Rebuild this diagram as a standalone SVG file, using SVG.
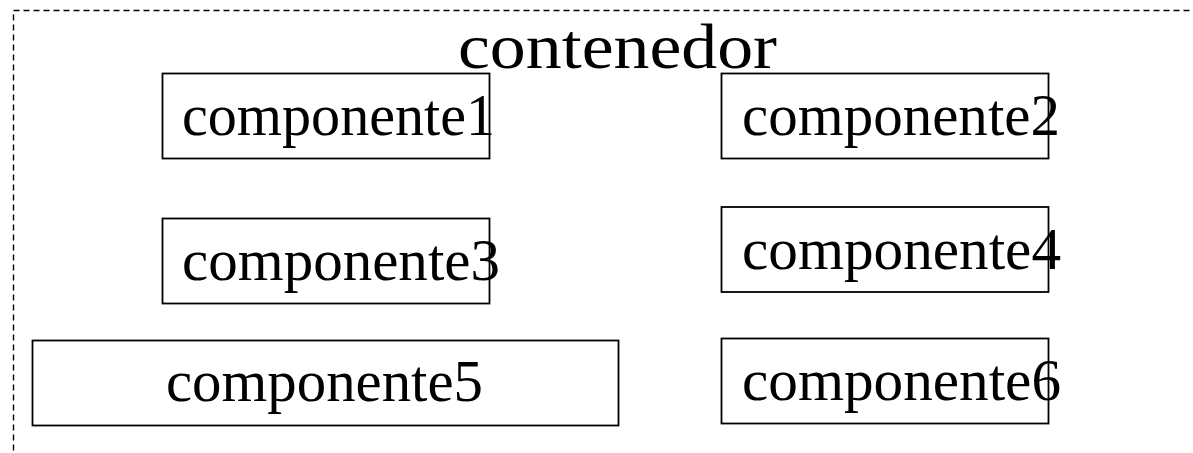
<svg xmlns="http://www.w3.org/2000/svg" width="1193" height="453" viewBox="0 0 1193 453">
<style>
.box{fill:#fff;stroke:#000;stroke-width:1.8}
.cont{fill:none;stroke:#000;stroke-width:1.4;stroke-dasharray:6,4}
text{font-family:"Liberation Serif","DejaVu Serif",serif;font-size:60px;fill:#000;font-variant-numeric:oldstyle-nums}
.title{font-size:64px}
</style>
<rect width="1193" height="453" fill="#fff"/>
<g id="contenedor">
<rect class="cont" x="13.5" y="10.5" width="1200" height="460"/>
<text class="title" x="458" y="68" textLength="319" lengthAdjust="spacingAndGlyphs">contenedor</text>
</g>
<g id="componente1">
<rect class="box" x="162.5" y="73.5" width="327" height="85"/>
<text x="182" y="135" textLength="313" lengthAdjust="spacingAndGlyphs">componente1</text>
</g>
<g id="componente2">
<rect class="box" x="721.5" y="73.5" width="327" height="85"/>
<text x="742" y="135" textLength="318" lengthAdjust="spacingAndGlyphs">componente2</text>
</g>
<g id="componente3">
<rect class="box" x="162.5" y="218.5" width="327" height="85"/>
<text x="182" y="280" textLength="318" lengthAdjust="spacingAndGlyphs">componente3</text>
</g>
<g id="componente4">
<rect class="box" x="721.5" y="207" width="327" height="85"/>
<text x="742" y="269" textLength="319" lengthAdjust="spacingAndGlyphs">componente4</text>
</g>
<g id="componente5">
<rect class="box" x="32.5" y="340.5" width="586" height="85"/>
<text x="166" y="401" textLength="317" lengthAdjust="spacingAndGlyphs">componente5</text>
</g>
<g id="componente6">
<rect class="box" x="721.5" y="338.5" width="327" height="85"/>
<text x="742" y="400" textLength="319" lengthAdjust="spacingAndGlyphs">componente6</text>
</g>
<g id="connectors"/>
</svg>
